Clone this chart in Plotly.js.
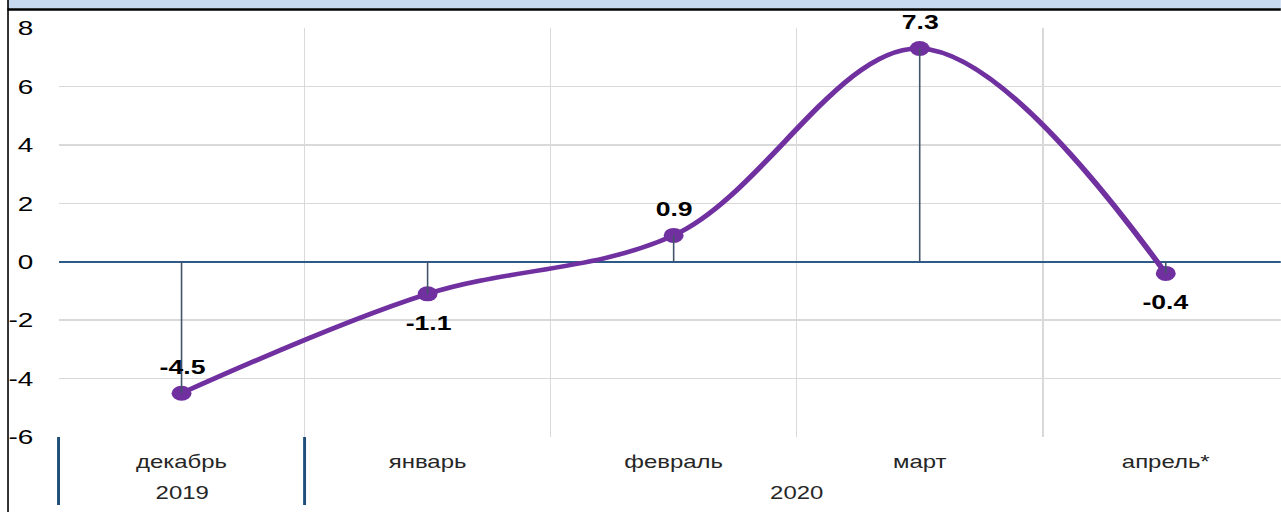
<!DOCTYPE html>
<html><head><meta charset="utf-8">
<script src="https://cdn.plot.ly/plotly-3.0.1.min.js"></script>
<style>
html,body{margin:0;padding:0;background:#fff;overflow:hidden;width:1281px;height:512px;}
#chart{position:absolute;left:0;top:0;transform-origin:0 0;}
</style>
</head><body><div id="chart"></div>
<script>
// ---- data ----
const years = ['2019', '2020', '2020', '2020', '2020'];
const months = ['декабрь', 'январь', 'февраль', 'март', 'апрель*'];
const values = [-4.5, -1.1, 0.9, 7.3, -0.4];
const valueLabels = ['-4.5', '-1.1', '0.9', '7.3', '-0.4'];
const yTickVals = [-6, -4, -2, 0, 2, 4, 6, 8];

// label placement (above / below the point)
const labelSide = ['above', 'below', 'above', 'above', 'below'];

// ---- geometry (the reference is horizontally stretched; draw narrower and stretch) ----
const SX = 1.33;
const W = 1281, H = 512;
const Wi = W / SX;
const ML = 59 / SX, MR = 0, MT = 28, MB = 75;
const PW = Wi - ML - MR, PH = H - MT - MB;
const px = p => (p / SX - ML) / PW;     // screen px -> paper x
const py = p => 1 + (MT - p) / PH;        // screen px -> paper y

const xRange = [-0.5, -0.5 + 5 * PW / (1230 / SX)];
const xToPaper = v => (v - xRange[0]) / (xRange[1] - xRange[0]);

const purple = '#7030A0';

const lineTrace = {
  type: 'scatter',
  x: months,
  y: values,
  mode: 'lines+markers',
  line: {color: purple, width: 4.5, shape: 'spline', smoothing: 1},
  marker: {color: purple, size: 15},
  cliponaxis: false,
  hoverinfo: 'skip'
};

const dropTrace = {
  type: 'scatter',
  x: months,
  y: values,
  mode: 'markers',
  marker: {size: 2, opacity: 0},
  error_y: {
    type: 'data', symmetric: false,
    array: values.map(v => v < 0 ? -v : 0),
    arrayminus: values.map(v => v > 0 ? v : 0),
    color: '#44546A', thickness: 1.2, width: 0
  },
  hoverinfo: 'skip'
};

// value labels
const valueAnn = values.map((v, i) => ({
  x: months[i], y: v, xref: 'x', yref: 'y',
  text: valueLabels[i], showarrow: false,
  yshift: labelSide[i] === 'above' ? 26 : -29,
  font: {family: 'Arial, Liberation Sans', size: 20, color: '#000', weight: 'bold'}
}));

// year group labels + dividers, computed from the years list
const groups = [];
years.forEach((y, i) => {
  if (!groups.length || groups[groups.length - 1].year !== y) groups.push({year: y, start: i, end: i});
  else groups[groups.length - 1].end = i;
});
const yearAnn = groups.map(g => ({
  x: (g.start + g.end) / 2, y: py(493), xref: 'x', yref: 'paper',
  text: g.year, showarrow: false, yanchor: 'middle',
  font: {family: 'Arial, Liberation Sans', size: 18, color: '#262626'}
}));
const bounds = groups.map(g => g.start - 0.5).concat([groups[groups.length - 1].end + 0.5]);
const dividerShapes = bounds.map(b => ({
  type: 'line', xref: 'paper', yref: 'paper', x0: xToPaper(b), x1: xToPaper(b), y0: py(437), y1: py(505),
  line: {color: '#1F4E79', width: 2.2}
}));

const layout = {
  width: Wi, height: H,
  margin: {l: ML, r: MR, t: MT, b: MB, pad: 0},
  paper_bgcolor: '#fff', plot_bgcolor: '#fff',
  showlegend: false, hovermode: false,
  font: {family: 'Arial, Liberation Sans', color: '#000'},
  xaxis: {
    type: 'category',
    range: xRange,
    showgrid: true, gridcolor: '#D9D9D9', gridwidth: 1.2,
    tickson: 'boundaries', ticks: '',
    showline: false, zeroline: false,
    ticklabelstandoff: 12,
    tickfont: {family: 'Arial, Liberation Sans', size: 18, color: '#262626'}
  },
  yaxis: {
    range: [-6, 8],
    tickvals: yTickVals,
    ticktext: yTickVals.map(String),
    showgrid: true, gridcolor: '#D9D9D9', gridwidth: 1.5,
    zeroline: true, zerolinecolor: '#2E5A88', zerolinewidth: 2,
    showline: false, ticks: '',
    ticklabelstandoff: 18,
    tickfont: {family: 'Arial, Liberation Sans', size: 21, color: '#000'}
  },
  annotations: valueAnn.concat(yearAnn),
  shapes: [
    {type: 'rect', xref: 'paper', yref: 'paper', x0: px(8), x1: px(1290), y0: py(0), y1: py(9), fillcolor: '#C6D9F0', line: {width: 0}, layer: 'above'},
    {type: 'line', xref: 'paper', yref: 'paper', x0: px(8), x1: px(1290), y0: py(9.5), y1: py(9.5), line: {color: '#000', width: 2.5}},
    {type: 'line', xref: 'paper', yref: 'paper', x0: px(8.5), x1: px(8.5), y0: py(0), y1: py(512), line: {color: '#000', width: 1.2}}
  ].concat(dividerShapes)
};

document.getElementById('chart').style.transform = 'scaleX(' + SX + ')';
Plotly.newPlot('chart', [lineTrace, dropTrace], layout, {staticPlot: true, displayModeBar: false});
</script>
</body></html>
